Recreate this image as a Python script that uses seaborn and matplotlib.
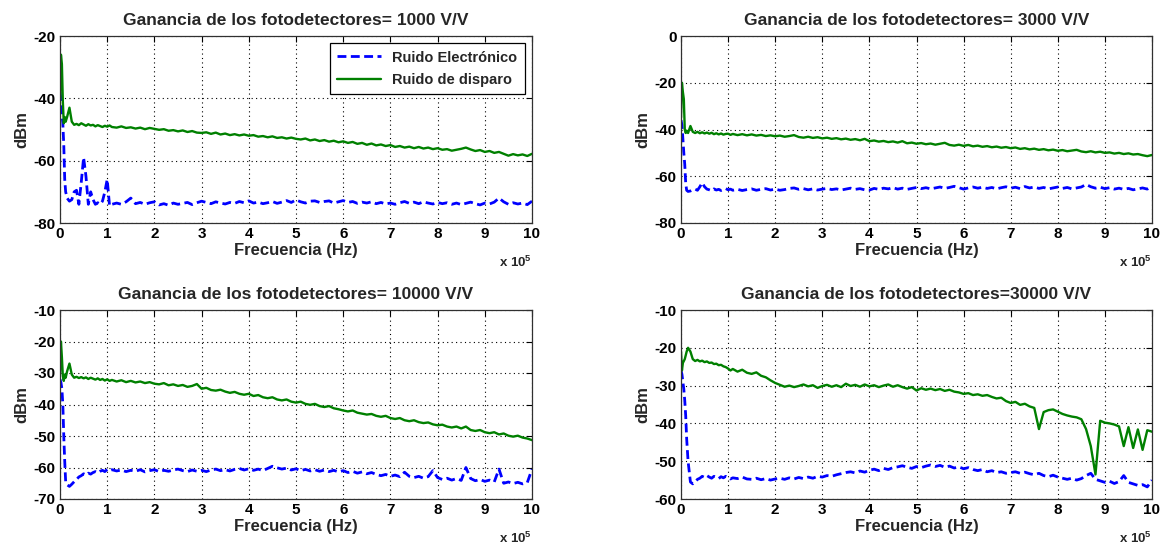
import numpy as np
import pandas as pd
import matplotlib
matplotlib.use("Agg")
import matplotlib.pyplot as plt
import seaborn as sns

# ---------------- data ----------------
freq_head_e5 = [0, 0.02, 0.04, 0.06, 0.08, 0.10, 0.12, 0.15, 0.20, 0.25, 0.30, 0.35, 0.40, 0.45,
                0.50, 0.55, 0.60, 0.65, 0.70, 0.75, 0.80, 0.85, 0.90, 0.95, 1.00, 1.05, 1.10]
freq_tail_e5 = [1.2, 1.3, 1.4, 1.5, 1.6, 1.7, 1.8, 1.9, 2.0, 2.1,
                2.2, 2.3, 2.4, 2.5, 2.6, 2.7, 2.8, 2.9, 3.0, 3.1,
                3.2, 3.3, 3.4, 3.5, 3.6, 3.7, 3.8, 3.9, 4.0, 4.1,
                4.2, 4.3, 4.4, 4.5, 4.6, 4.7, 4.8, 4.9, 5.0, 5.1,
                5.2, 5.3, 5.4, 5.5, 5.6, 5.7, 5.8, 5.9, 6.0, 6.1,
                6.2, 6.3, 6.4, 6.5, 6.6, 6.7, 6.8, 6.9, 7.0, 7.1,
                7.2, 7.3, 7.4, 7.5, 7.6, 7.7, 7.8, 7.9, 8.0, 8.1,
                8.2, 8.3, 8.4, 8.5, 8.6, 8.7, 8.8, 8.9, 9.0, 9.1,
                9.2, 9.3, 9.4, 9.5, 9.6, 9.7, 9.8, 9.9, 10.0]

# Gain 1000 V/V
shot_1000 = [-40, -26, -29, -41, -48, -46, -47.5, -46, -43, -47.5, -48.5, -48.2, -48.6, -48,
             -48.4, -48.8, -48.3, -48.7, -48.5, -49, -48.6, -48.9, -49.2, -48.8, -49.1, -48.7, -49.2,
             -49.4, -49.0, -49.5, -49.3, -49.7, -49.4, -49.9, -49.5, -49.8, -50.1,
             -49.9, -50.4, -50.2, -50.6, -50.3, -50.8, -50.5, -51.0, -51.1, -50.9,
             -51.4, -51.0, -51.6, -51.3, -51.8, -51.5, -51.9, -51.6, -52.0, -51.8,
             -52.3, -52.1, -52.5, -52.2, -52.7, -52.5, -52.9, -52.6, -53.0, -53.2,
             -52.9, -53.5, -53.2, -53.7, -53.4, -53.9, -53.6, -54.1, -53.8, -54.3,
             -54.0, -54.6, -54.3, -54.9, -54.5, -55.1, -54.8, -55.3, -55.0, -55.6,
             -55.3, -55.8, -55.5, -56.0, -55.6, -56.1, -55.8, -56.3, -56.0, -56.5,
             -56.3, -56.8, -56.5, -56.2, -55.8, -56.4, -56.9, -56.6, -57.2, -56.9,
             -57.5, -57.2, -57.8, -58.4, -57.9, -58.3, -58.0, -58.5, -57.8]
elec_1000 = [-38, -40, -45, -48, -55, -66, -70, -72, -73, -72.5, -70, -69.5, -74, -67,
             -59, -65, -74, -70, -72.5, -74, -73.5, -74, -73, -70, -66, -74.5, -74,
             -73.6, -74.0, -73.2, -72.0, -73.8, -73.4, -74.0, -73.5, -73.2, -74.2,
             -73.8, -74.3, -73.6, -74.0, -73.7, -73.4, -74.1, -73.5, -73.0, -73.4,
             -73.8, -73.2, -73.6, -73.9, -73.4, -73.7, -73.1, -73.5, -72.9, -73.6,
             -73.3, -73.8, -73.5, -73.1, -73.7, -73.3, -72.8, -73.4, -72.6, -73.2,
             -73.6, -73.0, -72.9, -73.4, -73.1, -72.9, -73.6, -73.2, -72.8, -73.4,
             -73.1, -73.7, -73.3, -73.6, -73.2, -73.8, -73.4, -73.9, -73.6, -74.0,
             -73.5, -73.1, -73.7, -73.3, -73.8, -73.2, -73.6, -73.9, -73.4, -73.8,
             -73.5, -74.0, -73.6, -74.1, -73.7, -73.3, -73.8, -74.2, -73.6, -73.9,
             -73.3, -72.0, -73.2, -74.0, -73.5, -73.9, -73.6, -74.1, -73.0]

# Gain 3000 V/V
shot_3000 = [-35, -20, -24, -27, -40, -41.5, -40.5, -41.5, -38.5, -41.0, -41.5, -41.0, -41.6, -41.2,
             -41.7, -41.3, -41.8, -41.4, -42.0, -41.6, -42.1, -41.7, -42.2, -41.9, -41.8, -42.3, -41.9,
             -42.4, -42.0, -42.5, -42.1, -42.6, -42.3, -42.8, -42.5, -42.9, -42.6,
             -43.1, -42.8, -42.4, -43.2, -43.5, -43.1, -43.6, -43.3, -43.8, -43.5,
             -44.0, -43.7, -44.2, -43.9, -44.4, -44.1, -44.6, -44.0, -45.0, -44.7,
             -45.2, -44.9, -45.4, -45.1, -45.6, -45.0, -45.9, -45.6, -46.1, -45.8,
             -46.3, -46.0, -46.5, -46.1, -45.7, -46.6, -46.9, -46.5, -47.0, -46.6,
             -47.2, -46.9, -47.4, -47.1, -47.6, -47.3, -47.8, -47.5, -48.0, -47.7,
             -48.3, -48.0, -48.5, -48.2, -48.7, -48.4, -48.9, -48.6, -49.1, -48.8,
             -49.3, -49.0, -48.7, -49.4, -49.7, -49.3, -49.8, -49.5, -50.0, -49.8,
             -50.3, -50.0, -50.5, -50.2, -50.7, -50.5, -51.0, -51.4, -50.9]
elec_3000 = [-36, -38, -44, -50, -55, -63, -66, -66.5, -66.3, -65.8, -65.5, -66.0, -64.5, -62.8,
             -64.5, -65.5, -65.8, -66.2, -65.4, -65.9, -65.6, -66.1, -65.7, -65.3, -65.8, -65.5, -66.0,
             -65.6, -66.1, -65.7, -65.4, -66.0, -65.6, -65.3, -65.9, -65.5, -66.0,
             -65.7, -65.2, -65.0, -65.6, -65.3, -65.8, -65.4, -65.9, -65.5, -65.2,
             -65.7, -65.4, -65.9, -65.5, -65.1, -65.6, -65.3, -65.8, -65.9, -65.2,
             -65.6, -65.1, -65.4, -64.9, -65.5, -65.1, -65.6, -65.2, -64.8, -65.3,
             -64.9, -65.4, -65.0, -64.6, -65.2, -64.8, -64.3, -64.9, -65.5, -65.0,
             -64.6, -65.1, -64.7, -65.2, -64.8, -65.4, -64.9, -64.5, -65.1, -64.7,
             -65.3, -64.4, -65.0, -64.6, -65.2, -64.8, -65.4, -65.0, -64.6, -65.2,
             -64.8, -65.4, -65.0, -64.6, -63.5, -64.5, -65.1, -64.7, -65.3, -64.9,
             -65.5, -65.1, -65.6, -65.2, -65.8, -65.4, -65.0, -65.5, -64.2]

# Gain 10000 V/V
shot_10000 = [-30, -20, -25, -31, -32.5, -30.5, -31.5, -29.5, -27.0, -30.5, -31.5, -31.2, -31.6, -31.3,
              -31.7, -31.4, -31.9, -31.5, -31.8, -32.1, -31.7, -32.2, -31.9, -32.4, -32.0, -32.5, -32.2,
              -32.7, -32.3, -32.9, -32.5, -33.0, -32.7, -33.2, -32.9, -33.4, -33.6,
              -33.2, -33.9, -33.6, -34.1, -33.8, -34.4, -34.1, -33.5, -35.0, -34.7,
              -35.4, -35.6, -35.3, -35.9, -36.3, -36.0, -36.6, -36.9, -36.6, -37.3,
              -37.0, -37.7, -38.0, -37.7, -38.4, -38.7, -38.4, -39.1, -39.4, -39.1,
              -39.8, -40.1, -39.8, -40.5, -40.8, -40.5, -41.2, -41.5, -41.9, -42.2,
              -41.9, -42.6, -42.9, -43.2, -43.0, -43.6, -43.9, -43.6, -44.3, -44.6,
              -44.3, -45.0, -45.3, -45.0, -45.6, -45.9, -45.7, -46.3, -46.6, -46.4,
              -47.0, -47.3, -47.0, -47.6, -47.0, -48.1, -48.4, -48.1, -48.8, -49.1,
              -48.8, -49.5, -49.2, -49.9, -50.2, -49.9, -50.5, -50.8, -51.3]
elec_10000 = [-32, -33, -35, -40, -50, -58, -64.5, -65.5, -66.0, -65.3, -64.5, -63.8, -63.0, -62.6,
              -62.0, -62.4, -61.8, -62.1, -61.6, -61.3, -61.7, -61.2, -60.9, -61.3, -60.6, -61.0, -60.7,
              -61.1, -60.8, -61.3, -60.9, -61.2, -60.7, -61.4, -61.0, -60.7, -61.3,
              -60.9, -61.2, -60.8, -60.5, -61.0, -61.3, -60.8, -61.2, -60.9, -61.3,
              -60.8, -60.5, -61.0, -60.7, -61.1, -60.6, -60.3, -60.8, -60.4, -60.9,
              -60.5, -61.0, -60.3, -59.6, -60.1, -60.5, -60.2, -60.8, -60.4, -61.0,
              -60.6, -61.1, -60.7, -61.2, -60.8, -61.3, -60.9, -61.4, -61.0, -61.6,
              -61.2, -61.8, -61.4, -62.0, -61.6, -62.2, -62.6, -62.2, -62.8, -62.4,
              -62.9, -61.5, -62.8, -63.2, -62.8, -63.4, -62.9, -61.0, -63.2, -63.8,
              -63.4, -64.0, -63.5, -64.1, -60.0, -63.5, -64.2, -63.8, -64.4, -64.0,
              -64.6, -60.5, -65.0, -64.6, -65.1, -64.7, -65.2, -64.8, -60.5]

# Gain 30000 V/V
shot_30000 = [-21, -26, -24, -23.5, -23, -22, -21, -20.0, -21.0, -23.0, -23.5, -23.2, -23.6, -23.4,
              -23.8, -23.6, -24.0, -23.9, -24.3, -24.2, -24.6, -24.5, -24.9, -25.1, -25.5, -26.0, -25.6,
              -26.3, -25.8, -26.6, -26.9, -26.5, -27.4, -27.8, -28.6, -29.3, -29.8,
              -30.3, -30.0, -30.4, -30.1, -29.7, -30.2, -29.9, -30.6, -30.1, -29.8,
              -30.3, -29.9, -30.4, -29.5, -30.1, -29.8, -30.3, -29.7, -30.2, -29.9,
              -30.4, -30.0, -29.7, -30.3, -29.9, -30.4, -30.8, -30.4, -31.3, -30.7,
              -31.1, -30.8, -31.2, -30.9, -31.4, -31.1, -31.6, -31.8, -32.2, -32.0,
              -32.5, -32.3, -32.7, -32.5, -33.0, -33.4, -33.2, -34.1, -34.6, -34.3,
              -35.1, -34.8, -35.5, -35.9, -41.5, -37.0, -36.5, -36.3, -36.9, -37.5,
              -37.9, -38.2, -38.4, -38.9, -41.5, -46.0, -53.5, -39.3, -39.8, -40.0,
              -40.3, -40.8, -46.0, -41.0, -46.5, -41.6, -47.0, -41.8, -42.2]
elec_30000 = [-26, -27, -29, -31, -34, -38, -44, -50, -55.5, -56.0, -55.5, -54.8, -54.5, -54.0,
              -54.3, -53.8, -54.2, -54.5, -54.0, -54.3, -54.6, -54.1, -54.4, -54.0, -54.3, -54.7, -54.4,
              -54.6, -54.2, -54.7, -54.8, -54.5, -54.9, -54.6, -55.0, -54.7, -54.5,
              -54.8, -54.4, -54.7, -54.3, -54.6, -54.2, -54.5, -54.0, -54.2, -53.8,
              -54.0, -53.6, -53.3, -53.0, -52.8, -53.1, -52.6, -52.9, -52.4, -52.1,
              -52.5, -51.9, -52.2, -51.7, -51.5, -51.2, -51.6, -51.9, -51.4, -51.7,
              -51.3, -51.0, -51.4, -51.1, -51.6, -51.3, -51.8, -51.5, -52.0, -51.7,
              -52.2, -52.5, -52.2, -52.8, -52.5, -53.0, -52.8, -53.2, -53.0, -52.8,
              -53.2, -52.9, -53.3, -53.6, -53.2, -53.8, -54.1, -53.7, -54.2, -54.5,
              -54.8, -54.5, -55.0, -54.6, -53.8, -53.2, -54.8, -55.2, -55.6, -55.3,
              -55.9, -55.4, -53.8, -55.6, -56.0, -56.4, -56.2, -56.8, -55.0]

gains = ["1000", "3000", "10000", "30000"]
titles = ["Ganancia de los fotodetectores= 1000 V/V",
          "Ganancia de los fotodetectores= 3000 V/V",
          "Ganancia de los fotodetectores= 10000 V/V",
          "Ganancia de los fotodetectores=30000 V/V"]
elec_series = [elec_1000, elec_3000, elec_10000, elec_30000]
shot_series = [shot_1000, shot_3000, shot_10000, shot_30000]
ylims = [(-80, -20), (-80, 0), (-70, -10), (-60, -10)]
ystep = [20, 20, 10, 10]
xtick_labels = ["0", "1", "2", "3", "4", "5", "6", "7", "8", "9", "10"]
label_elec = "Ruido Electrónico"
label_shot = "Ruido de disparo"

# ---------------- style ----------------
sns.set_style("white")
plt.rcParams["font.family"] = ["Liberation Sans", "DejaVu Sans"]
plt.rcParams["font.weight"] = "bold"
plt.rcParams["mathtext.fontset"] = "custom"
plt.rcParams["mathtext.bf"] = "Liberation Sans:bold"
plt.rcParams["mathtext.rm"] = "Liberation Sans:bold"
plt.rcParams["mathtext.default"] = "bf"

freq_hz = np.array(freq_head_e5 + freq_tail_e5) * 1e5

fig = plt.figure(figsize=(11.69, 5.48), dpi=100)
W, H = 1169.0, 548.0
boxes = [(60, 36, 532, 223), (681, 36, 1152, 223), (60, 310, 532, 499), (681, 310, 1152, 499)]

blue = (0.0, 0.0, 1.0)
green = (0.0, 0.5, 0.0)

for i in range(4):
    x0, y0, x1, y1 = boxes[i]
    ax = fig.add_axes([x0 / W, 1 - y1 / H, (x1 - x0) / W, (y1 - y0) / H])
    df = pd.DataFrame({"freq": freq_hz, "elec": elec_series[i], "shot": shot_series[i]})
    sns.lineplot(data=df, x="freq", y="elec", ax=ax, color=blue, lw=2.0,
                 label=label_elec, estimator=None, sort=False)
    ax.lines[-1].set_dashes((3.2, 1.6))
    sns.lineplot(data=df, x="freq", y="shot", ax=ax, color=green, lw=1.7,
                 label=label_shot, estimator=None, sort=False)

    lo, hi = ylims[i]
    ax.set_xlim(0, 1e6)
    ax.set_ylim(lo, hi)
    ax.set_xticks(np.arange(11) * 1e5)
    ax.set_xticklabels(xtick_labels)
    ax.set_yticks(np.arange(lo, hi + 1, ystep[i]))
    ax.set_yticklabels([str(v) for v in np.arange(lo, hi + 1, ystep[i])])
    ax.grid(True, color="black", linestyle=(0, (1, 3)), linewidth=0.8)
    ax.tick_params(direction="in", length=4, width=0.8, top=True, right=True,
                   labelsize=11, colors="black", pad=3)
    for lab in ax.get_xticklabels() + ax.get_yticklabels():
        lab.set_fontweight("bold")
    for sp in ax.spines.values():
        sp.set_color("#303030")
        sp.set_linewidth(0.9)
    ax.set_title(titles[i], fontsize=12.5, fontweight="bold", pad=8)
    ax.set_xlabel("Frecuencia (Hz)", fontsize=12, fontweight="bold", labelpad=1)
    ax.set_ylabel("dBm", fontsize=12, fontweight="bold", labelpad=3)
    ax.annotate(r"x 10$^{5}$", xy=(1.0, 0.0), xycoords="axes fraction",
                xytext=(0, -23), textcoords="offset points", ha="right", va="top",
                fontsize=9.5, fontweight="bold")
    if i == 0:
        leg = ax.legend(loc="upper right", fancybox=False, framealpha=1, edgecolor="black",
                        handlelength=3.0, borderaxespad=0.5, labelspacing=0.55,
                        borderpad=0.5, prop={"weight": "bold", "size": 10.5})
        leg.get_frame().set_linewidth(0.9)
    else:
        ax.get_legend().remove()

fig.savefig("out.png", dpi=100, facecolor="white")
